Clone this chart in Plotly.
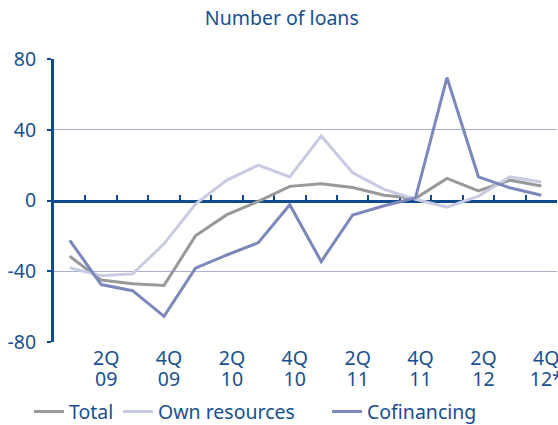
import plotly.graph_objects as go

quarters = [f"{q}Q{y}" for y in ["09", "10", "11", "12"] for q in range(1, 5)]
label_quarters = ["2Q09", "4Q09", "2Q10", "4Q10", "2Q11", "4Q11", "2Q12", "4Q12"]
label_top = ["2Q", "4Q", "2Q", "4Q", "2Q", "4Q", "2Q", "4Q"]
label_bottom = ["09", "09", "10", "10", "11", "11", "12", "12*"]
y_ticks = [-80, -40, 0, 40, 80]
y_ticktext = ["-80", "-40", "0", "40", "80"]

total = [-31.5, -45, -47, -48, -20, -8, -0.5, 8, 9.5, 7.3, 3, 1.2, 12.5, 5.4, 11.5, 8.2]
own_resources = [-38, -42.5, -41.5, -24.5, -2, 11.5, 20, 13.3, 36.5, 15.7, 6.3, 0.7, -3.8, 2.5, 13.4, 10.5]
cofinancing = [-22.5, -47.5, -51, -65.5, -38.3, -30.8, -23.8, -2.4, -34.5, -8.2, -3, 1.5, 69.5, 13.4, 7.2, 3]

TEXT = "#1a4f8e"
AXIS = "#0f4a8c"
GRID = "#a9b0d4"
FONT = "Noto Sans"
FS = 19.5

fig = go.Figure()
for name, vals, color, leg in [
    ("Total", total, "#999999", "legend"),
    ("Own resources", own_resources, "#c8cbe2", "legend2"),
    ("Cofinancing", cofinancing, "#7c87ba", "legend3"),
]:
    fig.add_trace(go.Scatter(
        x=quarters, y=vals, mode="lines", name=name, legend=leg,
        line={"color": color, "width": 3},
    ))

# empty traces that carry the extra x axes (zero line ticks, second label row)
for ax in ["x2", "x3"]:
    fig.add_trace(go.Scatter(
        x=quarters, y=[None] * len(quarters), xaxis=ax,
        showlegend=False, hoverinfo="skip",
    ))

legend_base = dict(orientation="h", xanchor="left", y=-0.247, yanchor="middle",
                   font={"size": FS, "color": TEXT}, itemwidth=30,
                   bgcolor="rgba(0,0,0,0)")

fig.update_layout(
    width=558, height=425,
    margin={"l": 54, "r": 1, "t": 59, "b": 83, "autoexpand": False},
    plot_bgcolor="white", paper_bgcolor="white",
    font={"family": FONT, "color": TEXT, "size": FS},
    title={"text": "Number of loans", "x": 0.505, "xref": "container", "xanchor": "center",
           "y": 0.958, "yref": "container", "yanchor": "middle",
           "font": {"size": FS, "color": TEXT}},
    xaxis={
        "type": "category", "range": [-0.5, 15.5],
        "tickmode": "array", "tickvals": label_quarters, "ticktext": label_top,
        "showgrid": False, "showline": False, "ticks": "", "zeroline": False,
        "ticklabelshift": 5, "ticklabelstandoff": 2,
        "tickfont": {"size": FS, "color": TEXT},
    },
    xaxis2={
        "type": "category", "overlaying": "x", "matches": "x",
        "anchor": "free", "position": 0.5,
        "showline": True, "linecolor": AXIS, "linewidth": 3,
        "ticks": "inside", "tickson": "boundaries", "ticklen": 5,
        "tickwidth": 2, "tickcolor": AXIS,
        "showticklabels": False, "showgrid": False, "layer": "below traces",
    },
    xaxis3={
        "type": "category", "overlaying": "x", "matches": "x",
        "anchor": "free", "position": 0, "side": "bottom",
        "tickmode": "array", "tickvals": label_quarters, "ticktext": label_bottom,
        "showgrid": False, "showline": False, "ticks": "", "zeroline": False,
        "ticklabelshift": 5, "ticklabelstandoff": 23,
        "tickfont": {"size": FS, "color": TEXT},
    },
    yaxis={
        "range": [-80, 80], "tickmode": "array",
        "tickvals": y_ticks, "ticktext": y_ticktext,
        "showgrid": True, "gridcolor": GRID, "gridwidth": 1,
        "zeroline": False,
        "showline": True, "linecolor": AXIS, "linewidth": 3,
        "ticks": "outside", "ticklen": 4, "tickwidth": 2, "tickcolor": AXIS,
        "ticklabelstandoff": 7,
        "tickfont": {"size": FS, "color": TEXT},
    },
    legend={**legend_base, "x": -0.0497},
    legend2={**legend_base, "x": 0.1272},
    legend3={**legend_base, "x": 0.5427},
    showlegend=True,
)

fig.write_html("out.html", config={"displayModeBar": False},
               post_script="document.body.style.margin='0';")
